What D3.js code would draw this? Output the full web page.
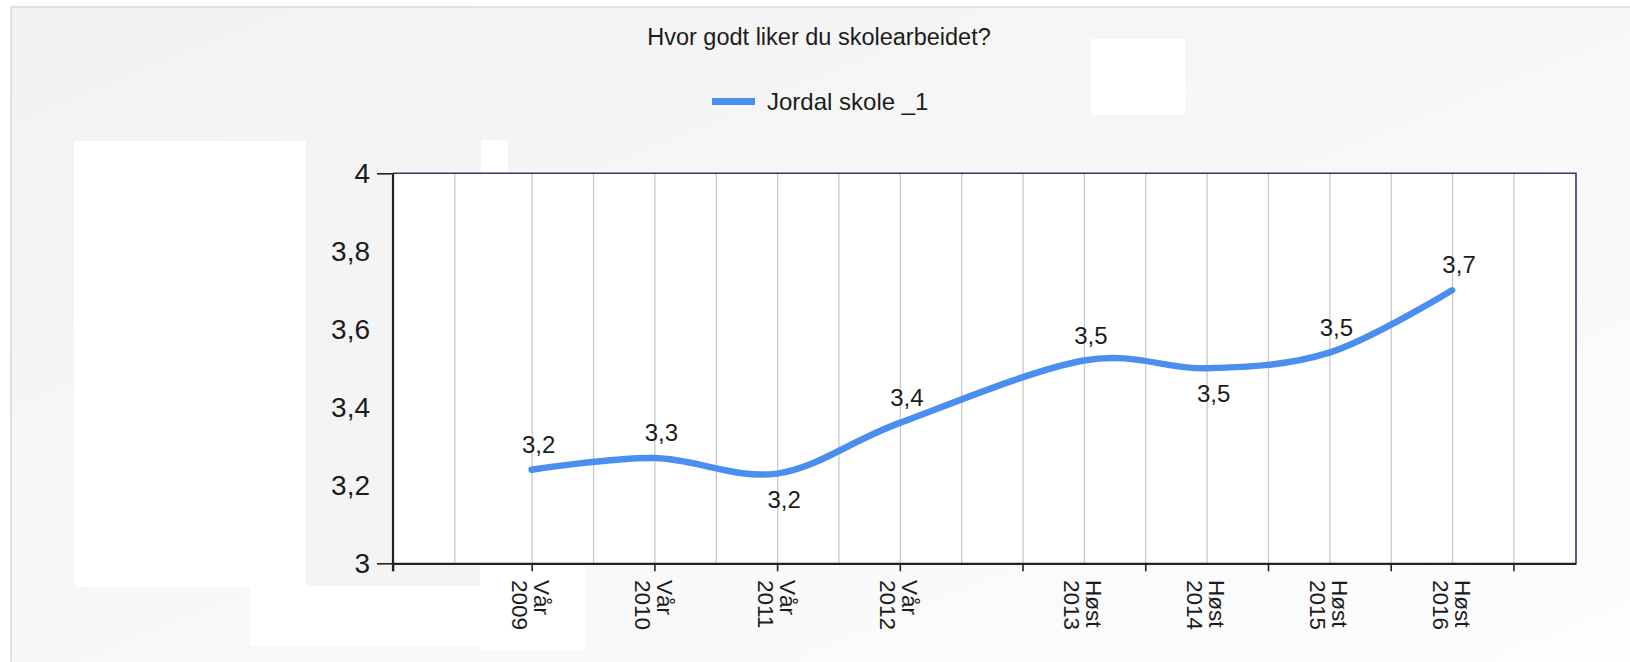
<html>
<head>
<meta charset="utf-8">
<script src="https://d3js.org/d3.v7.min.js"></script>
<style>
  body { margin: 0; background: #fff; }
  text { font-family: "Liberation Sans", Arial, sans-serif; fill: #1c1c1c; }
  .grid line { stroke: #c4c4c4; stroke-width: 1.2; }
  .grid .domain { stroke: none; }
</style>
</head>
<body>
<script>
// survey rounds, placed in half-years counted from Vår 2009
const categories = ['Vår 2009', 'Vår 2010', 'Vår 2011', 'Vår 2012', 'Høst 2013', 'Høst 2014', 'Høst 2015', 'Høst 2016'];
const halfYears = [0, 2, 4, 6, 9, 11, 13, 15];
const values = [3.24, 3.27, 3.23, 3.36, 3.52, 3.50, 3.54, 3.70];
const seriesName = 'Jordal skole _1';
const title = 'Hvor godt liker du skolearbeidet?';

const yTicks = [3, 3.2, 3.4, 3.6, 3.8, 4];
const yMajor = [3, 4];
const xDomain = [-2.26, 17.02];
const xGrid = [-1.26, 0, 1, 2, 3, 4, 5, 6, 7, 8, 9, 10, 11, 12, 13, 14, 15, 16];
const xMajor = [-2.26, 0, 2, 4, 6, 8, 10, 12, 14, 16];

const blue = '#4a8ef0';
const nb = d3.formatLocale({decimal: ',', thousands: ' ', grouping: [3], currency: ['', ' kr']});
const fmtTick = nb.format('.2~f');
const fmtVal = nb.format('.1f');

const svg = d3.select('body').append('svg')
  .attr('width', 1630)
  .attr('height', 662);

const plot = {left: 393, right: 1576, top: 173.3, bottom: 563.3};

// panel background
const defs = svg.append('defs');
const grad = defs.append('linearGradient').attr('id', 'bg')
  .attr('x1', 0).attr('y1', 0).attr('x2', 1).attr('y2', 1);
grad.append('stop').attr('offset', '0%').attr('stop-color', '#f2f2f2');
grad.append('stop').attr('offset', '100%').attr('stop-color', '#fdfdfd');

svg.append('rect')
  .attr('x', 11).attr('y', 7).attr('width', 1625).attr('height', 660)
  .attr('fill', 'url(#bg)').attr('stroke', '#dadada').attr('stroke-width', 1.5);

// pasted-over patches seen in the source picture
const patches = [
  [74, 141, 232, 446, '#ffffff'],
  [306, 141, 176, 446, '#f4f4f4'],
  [481, 140, 27, 33, '#ffffff'],
  [250, 586, 232, 60, '#ffffff'],
  [480, 566, 105, 84, '#ffffff'],
  [1091, 39, 94, 76, '#ffffff']
];
svg.selectAll('rect.patch').data(patches).join('rect')
  .attr('class', 'patch')
  .attr('x', d => d[0]).attr('y', d => d[1])
  .attr('width', d => d[2]).attr('height', d => d[3])
  .attr('fill', d => d[4]);

// plot area
svg.append('rect')
  .attr('x', plot.left).attr('y', plot.top)
  .attr('width', plot.right - plot.left).attr('height', plot.bottom - plot.top)
  .attr('fill', '#fff');

let xScale = d3.scaleLinear().domain(xDomain).range([plot.left, plot.right]);
let yScale = d3.scaleLinear().domain([3, 4]).range([plot.bottom, plot.top]);

// vertical gridlines
svg.append('g')
  .attr('class', 'grid')
  .attr('transform', `translate(0,${plot.bottom})`)
  .call(d3.axisBottom(xScale).tickValues(xGrid).tickFormat('').tickSize(-(plot.bottom - plot.top)).tickSizeOuter(0));

// frame: top and right in navy
svg.append('path')
  .attr('d', `M${plot.left},${plot.top}H${plot.right}V${plot.bottom}`)
  .attr('fill', 'none').attr('stroke', '#2c3b66').attr('stroke-width', 1.6);

// x axis
let bottomAxis = d3.axisBottom(xScale).tickValues(xMajor).tickFormat('').tickSize(8).tickSizeOuter(0);
let gx = svg.append('g')
  .attr('transform', `translate(0,${plot.bottom})`)
  .call(bottomAxis);
gx.selectAll('line').attr('stroke', '#222').attr('stroke-width', 1.6);
gx.select('.domain').attr('stroke', '#222').attr('stroke-width', 2.2);

// y axis
let leftAxis = d3.axisLeft(yScale).tickValues(yMajor).tickFormat('').tickSize(16).tickSizeOuter(0);
let gy = svg.append('g')
  .attr('transform', `translate(${plot.left},0)`)
  .call(leftAxis);
gy.selectAll('line').attr('stroke', '#222').attr('stroke-width', 1.6);
gy.select('.domain').attr('stroke', '#222').attr('stroke-width', 2.2)
  .attr('d', `M0,${plot.top}V${plot.bottom + 8}`);

svg.append('g').selectAll('text').data(yTicks).join('text')
  .attr('x', plot.left - 23)
  .attr('y', d => yScale(d))
  .attr('dy', '0.36em')
  .attr('text-anchor', 'end')
  .attr('font-size', 28)
  .text(d => fmtTick(d));

// x labels, rotated, two lines each
const xl = svg.append('g').selectAll('g').data(categories).join('g')
  .attr('transform', (d, i) => `translate(${xScale(halfYears[i])},580) rotate(90)`);
xl.append('text')
  .attr('font-size', 22.5)
  .attr('y', -2.5)
  .text(d => d.split(' ')[0]);
xl.append('text')
  .attr('font-size', 22.5)
  .attr('y', 19.5)
  .text(d => d.split(' ')[1]);

// series
const pts = values.map((v, i) => [xScale(halfYears[i]), yScale(v)]);
const line = d3.line().curve(d3.curveCardinal.tension(0));
svg.append('path')
  .attr('d', line(pts))
  .attr('fill', 'none')
  .attr('stroke', blue)
  .attr('stroke-width', 6.5)
  .attr('stroke-linecap', 'round');

// value labels: below at local dips, above elsewhere
svg.append('g').selectAll('text').data(values).join('text')
  .attr('x', (d, i) => xScale(halfYears[i]) + 7)
  .attr('y', (d, i) => {
    const dip = i > 0 && i < values.length - 1 && d < values[i - 1] && d < values[i + 1];
    return yScale(d) + (dip ? 34 : -17);
  })
  .attr('text-anchor', 'middle')
  .attr('font-size', 24)
  .text(d => fmtVal(d));

// title and legend
svg.append('text')
  .attr('x', 819).attr('y', 45)
  .attr('text-anchor', 'middle')
  .attr('font-size', 23.5)
  .text(title);

svg.append('line')
  .attr('x1', 712).attr('x2', 755)
  .attr('y1', 101.5).attr('y2', 101.5)
  .attr('stroke', blue).attr('stroke-width', 7);
svg.append('text')
  .attr('x', 767).attr('y', 110)
  .attr('font-size', 24)
  .text(seriesName);
</script>
</body>
</html>
